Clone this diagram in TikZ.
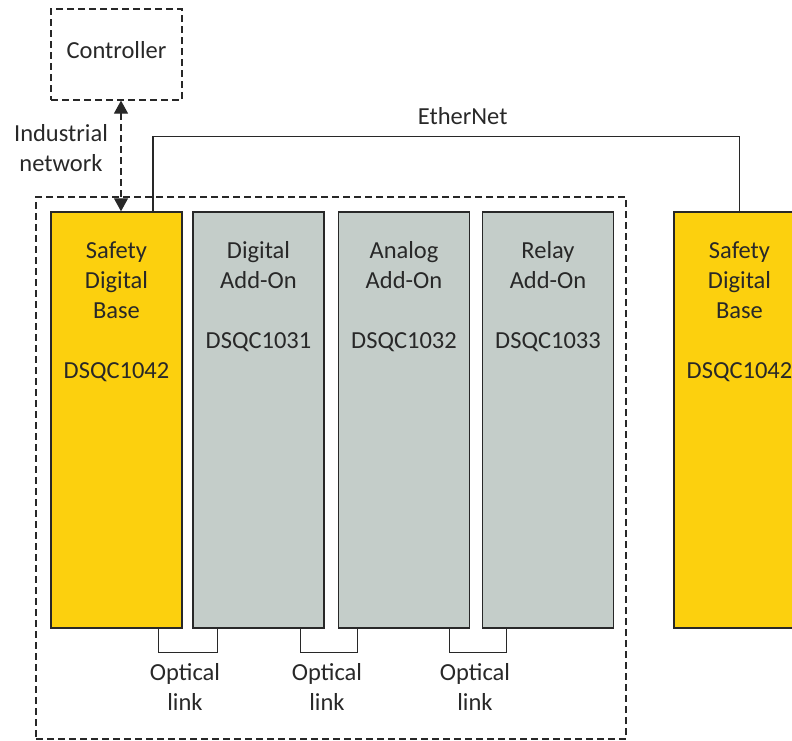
\documentclass[tikz,border=0pt]{standalone}
\usepackage{fontspec}
\setmainfont{Carlito}
\usetikzlibrary{arrows.meta,positioning}
\definecolor{sYellow}{RGB}{252,208,14}
\definecolor{aGray}{RGB}{196,205,201}
\definecolor{lGray}{RGB}{40,40,40}

\begin{document}
\begin{tikzpicture}[x=1pt,y=1pt,font=\fontsize{24.5}{30}\selectfont,text=lGray,
  mod/.style={draw=lGray,line width=1.4pt,minimum width=131,minimum height=416,inner sep=0pt},
  base/.style={mod,fill=sYellow},
  addon/.style={mod,fill=aGray},
  mtxt/.style={anchor=north,align=center,inner sep=0pt,yshift=-30},
  grp/.style={draw=lGray,line width=1.2pt,dash pattern=on 7pt off 4pt},
  wire/.style={draw=lGray,line width=1.1pt},
  tip/.style={{Triangle[length=13pt,width=14pt]}-{Triangle[length=13pt,width=14pt]}}]
\useasboundingbox (0,0) rectangle (792,-740);
% ---- controller
\node[grp,minimum width=131,minimum height=91,text depth=9pt] (ctrl) at (116.5,-54.5) {Controller};
% ---- local group of modules
\node[grp,minimum width=590,minimum height=542,inner sep=0pt] (local) at (331,-468) {};
\node[base]  (sdb) at (116.5,-420) {};
\node[addon] (dao) at (258.5,-420) {};
\node[addon] (aao) at (404,-420) {};
\node[addon] (rao) at (548,-420) {};
\node[mtxt] at (sdb.north) {Safety\\Digital\\Base\\[30pt]DSQC1042};
\node[mtxt] at (dao.north) {Digital\\Add-On\\[30pt]DSQC1031};
\node[mtxt] at (aao.north) {Analog\\Add-On\\[30pt]DSQC1032};
\node[mtxt] at (rao.north) {Relay\\Add-On\\[30pt]DSQC1033};
% ---- remote base
\node[base] (sdb2) at (739.5,-420) {};
\node[mtxt] at (sdb2.north) {Safety\\Digital\\Base\\[30pt]DSQC1042};
% ---- labels
\node[align=center] (net) at (61,-148) {Industrial\\network};
\node[align=center] (ol1) at (185,-687) {Optical\\link};
\node[align=center] (ol2) at (327,-687) {Optical\\link};
\node[align=center] (ol3) at (475,-687) {Optical\\link};
% ---- connections
\draw[grp,tip] ([xshift=4.5]ctrl.south) -- ([xshift=4.5]sdb.north);
\draw[wire] ([xshift=36.5]sdb.north) -- ++(0,75) -| node[pos=0.264,above=8pt]{EtherNet} (sdb2.north);
\draw[wire] ([xshift=-24]sdb.south east) -- ++(0,-24) -| ([xshift=25]dao.south west);
\draw[wire] ([xshift=-24]dao.south east) -- ++(0,-24) -| ([xshift=20]aao.south west);
\draw[wire] ([xshift=-21]aao.south east) -- ++(0,-24) -| ([xshift=25]rao.south west);
\end{tikzpicture}
\end{document}
